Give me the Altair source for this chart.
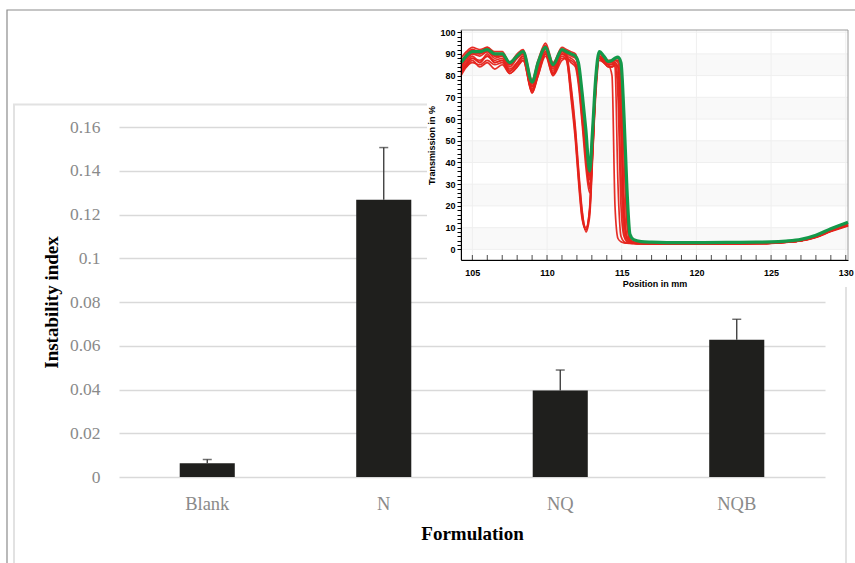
import altair as alt
import pandas as pd

# ---------------- bar chart data ----------------
formulation = ["Blank", "N", "NQ", "NQB"]
instability = [0.0063, 0.1268, 0.0396, 0.0628]
std_error = [0.0017, 0.0238, 0.0093, 0.0093]
y_ticks_main = [0, 0.02, 0.04, 0.06, 0.08, 0.1, 0.12, 0.14, 0.16]

# ---------------- inset (transmission profiles) data ----------------
position_mm = [104.24, 104.6, 105.0, 105.5, 106.0, 106.5, 107.0, 107.5, 108.0, 108.4,
               109.0, 109.4, 109.9, 110.4, 111.0, 111.3, 111.6, 111.9, 112.1, 112.35,
               112.6, 112.85, 113.05, 113.25, 113.5, 113.8, 114.1, 114.35, 114.55, 114.75,
               114.95, 115.15, 115.35, 115.55, 115.8, 116.3, 117, 118, 120, 122,
               124, 125, 126, 127, 128, 129, 130.15]

green_profile = [86, 89, 91, 91, 92, 90, 90, 86, 89, 91,
                 77, 86, 93, 85, 92, 91, 90, 89, 86, 72,
                 55, 36, 55, 78, 91, 89, 86.5, 87, 88, 88.5,
                 86, 62, 28, 7, 4.5, 3.6, 3.3, 3.1, 3.1, 3.2,
                 3.3, 3.4, 3.8, 4.6, 6.5, 9.5, 12.5]

red_r1 = [84, 88, 90, 90, 91, 89, 89, 85, 88, 90, 75, 85, 92, 84, 91, 90, 89, 88, 84, 68,
          50, 32, 52, 76, 90, 88, 86, 86.5, 87, 87, 80, 45, 12, 4, 3.2, 2.9, 2.8, 2.7, 2.7, 2.8,
          2.9, 3.0, 3.4, 4.2, 6.0, 9.0, 12.0]
red_r2 = [81, 85, 88, 87, 89, 87, 88, 83, 86, 89, 73, 83, 91, 82, 90, 89, 88, 86, 80, 62,
          44, 28, 48, 74, 89, 87, 85, 85, 86, 84, 55, 14, 5, 3.5, 3.0, 2.7, 2.6, 2.5, 2.5, 2.6,
          2.7, 2.9, 3.3, 4.0, 5.8, 8.6, 11.2]
red_r3 = [88, 91, 93, 92, 93, 91, 91, 86, 90, 92, 78, 87, 95, 86, 93, 92, 91, 90, 85, 70,
          52, 34, 54, 77, 91, 89, 87, 87, 88, 88, 86, 60, 20, 5, 3.4, 3.0, 2.9, 2.8, 2.8, 2.9,
          3.0, 3.2, 3.6, 4.4, 6.2, 9.2, 11.8]
red_r4 = [83, 86, 89, 86, 90, 86, 87, 82, 85, 88, 72, 81, 90, 81, 88, 88, 87, 85, 78, 60,
          42, 30, 46, 72, 88, 86, 84, 84, 85, 70, 20, 6, 3.6, 3.2, 2.9, 2.7, 2.6, 2.5, 2.5, 2.6,
          2.7, 2.9, 3.3, 4.0, 5.6, 8.4, 11.0]
red_r5 = [86, 90, 92, 91, 93, 90, 90, 86, 89, 91, 76, 86, 93, 85, 92, 91, 90, 89, 83, 66,
          48, 38, 56, 79, 91, 88, 86, 86, 87, 87, 85, 50, 14, 4.2, 3.3, 3.0, 2.9, 2.8, 2.8, 2.9,
          3.0, 3.2, 3.6, 4.3, 6.2, 9.2, 11.8]
red_r6 = [82, 84, 87, 84, 86, 83, 85, 81, 84, 87, 73, 80, 89, 80, 87, 88, 86, 84, 76, 58,
          38, 26, 44, 70, 87, 86, 84, 84, 85, 84, 62, 16, 5, 3.4, 3.0, 2.7, 2.6, 2.5, 2.5, 2.6,
          2.7, 2.9, 3.3, 4.0, 5.7, 8.5, 11.0]
red_a1 = [80, 84, 86, 85, 87, 85, 86, 81, 84, 87, 72, 80, 90, 80, 89, 87, 72, 52, 34, 15,
          9, 17, 44, 74, 88, 86, 85, 80, 20, 5, 3.5, 3.0, 2.8, 2.7, 2.6, 2.5, 2.5, 2.4, 2.4, 2.5,
          2.6, 2.8, 3.2, 3.9, 5.5, 8.2, 10.8]
red_a2 = [84, 87, 90, 89, 91, 88, 89, 84, 88, 90, 74, 84, 93, 83, 91, 89, 74, 54, 36, 17,
          10, 18, 46, 76, 89, 87, 86, 86, 84, 30, 6, 3.6, 3.0, 2.8, 2.7, 2.6, 2.5, 2.5, 2.5, 2.6,
          2.7, 2.9, 3.3, 4.0, 5.7, 8.5, 11.0]
red_a3 = [86, 89, 92, 90, 92, 89, 90, 85, 89, 91, 75, 85, 94, 84, 92, 90, 76, 56, 38, 18,
          8, 15, 42, 73, 88, 87, 86, 86, 87, 86, 72, 25, 6, 3.8, 3.1, 2.8, 2.7, 2.6, 2.6, 2.7,
          2.8, 3.0, 3.4, 4.1, 5.9, 8.8, 11.4]
red_a4 = [82, 85, 88, 86, 89, 86, 87, 82, 86, 89, 73, 82, 91, 81, 90, 88, 70, 50, 32, 14,
          9, 19, 48, 77, 89, 87, 85, 85, 86, 78, 35, 8, 3.8, 3.2, 2.9, 2.7, 2.6, 2.5, 2.5, 2.6,
          2.7, 2.9, 3.3, 4.0, 5.7, 8.5, 11.1]

red_profiles = {"r1": red_r1, "r2": red_r2, "r3": red_r3, "r4": red_r4, "r5": red_r5,
                "r6": red_r6, "a1": red_a1, "a2": red_a2, "a3": red_a3, "a4": red_a4}

inset_x_labels = [105, 110, 115, 120, 125, 130]
inset_x_minor = list(range(105, 131))
inset_y_ticks = list(range(0, 101, 2))
inset_y_grid = list(range(0, 101, 10))
band_lo = [0, 20, 40, 60, 80]
band_hi = [10, 30, 50, 70, 90]

X_MIN, X_MAX = 104.24, 130.15
Y_MIN, Y_MAX = -4.9, 101.0

# ---------------- styling / layout constants ----------------
SERIF = "Liberation Serif"
SANS = "Liberation Sans"
GRAY_TXT = "#8a8a8a"
RED = "#e5231b"
GREEN = "#14994a"
PLOT_W, PLOT_H = 706, 350
PAD_L, PAD_T = 119, 127
INSET_X_RANGE = [342, 729]
INSET_Y_RANGE = [133, -97]

# ---------------- data frames ----------------
bar_df = pd.DataFrame({"Formulation": formulation, "Index": instability, "Err": std_error})
bar_df["Upper"] = bar_df["Index"] + bar_df["Err"]

rows = []
for name, vals in red_profiles.items():
    for p, v in zip(position_mm, vals):
        rows.append({"pos": p, "T": v, "curve": name})
red_df = pd.DataFrame(rows)
green_df = pd.DataFrame({"pos": position_mm, "T": green_profile, "curve": "g"})

band_df = pd.DataFrame({"T": band_lo, "T2": band_hi, "pos": X_MIN, "pos2": X_MAX})
hgrid_df = pd.DataFrame({"T": inset_y_grid, "pos": X_MIN, "pos2": X_MAX})
vgrid_df = pd.DataFrame({"pos": inset_x_labels, "T": Y_MIN, "T2": Y_MAX})
minor_df = pd.DataFrame({"pos": inset_x_minor, "T": Y_MIN})
frame_df = pd.DataFrame({"pos": [X_MIN], "pos2": [X_MAX], "T": [Y_MIN], "T2": [Y_MAX]})
one = pd.DataFrame({"a": [0]})

# ---------------- main bar chart ----------------
main_x_axis = alt.Axis(orient="bottom", title="Formulation", labelAngle=0, labelFont=SERIF,
                       labelFontSize=18.5, labelColor=GRAY_TXT, labelPadding=17, ticks=False,
                       domain=False, titleFont=SERIF, titleFontSize=19,
                       titleFontWeight="bold", titleColor="black", titlePadding=12)
main_y_axis = alt.Axis(orient="left", values=y_ticks_main, format="~g",
                       title="Instability index", labelFont=SERIF, labelFontSize=17.5,
                       labelColor=GRAY_TXT, labelPadding=19, ticks=False, domain=False,
                       grid=True, gridColor="#d9d9d9", gridWidth=1.5, titleFont=SERIF,
                       titleFontSize=19, titleFontWeight="bold", titleColor="black",
                       titlePadding=8, labelFlush=False)
main_x_scale = alt.Scale(domain=formulation, paddingInner=0.688, paddingOuter=0.344)
main_y_scale = alt.Scale(domain=[0, 0.16], nice=False)

x_main = alt.X("Formulation:N", sort=formulation, scale=main_x_scale, axis=main_x_axis)
y_main = alt.Y("Index:Q", scale=main_y_scale, axis=main_y_axis)
y_upper = alt.Y("Upper:Q", scale=main_y_scale, axis=main_y_axis)

bars = alt.Chart(bar_df).mark_bar(color="#1f1f1d").encode(x=x_main, y=y_main)
err = alt.Chart(bar_df).mark_rule(color="#333333", strokeWidth=1.3).encode(
    x=x_main, y=y_main, y2="Upper:Q")
caps = alt.Chart(bar_df).mark_tick(color="#333333", orient="horizontal", size=9,
                                   thickness=1.5).encode(x=x_main, y=y_upper)
main = alt.layer(bars, err, caps)

# ---------------- inset ----------------
xs = alt.Scale(domain=[X_MIN, X_MAX], range=INSET_X_RANGE, nice=False, zero=False)
ys = alt.Scale(domain=[Y_MIN, Y_MAX], range=INSET_Y_RANGE, nice=False, zero=False)
inset_x_axis = alt.Axis(orient="bottom", offset=-(PLOT_H - INSET_Y_RANGE[0]),
                        values=inset_x_labels, ticks=False, labelPadding=8, labelFont=SANS,
                        labelFontWeight="bold", labelFontSize=9, labelColor="black",
                        domainColor="black", domainWidth=1, title="Position in mm",
                        titleFont=SANS, titleFontSize=9, titleFontWeight="bold",
                        titleColor="black", titlePadding=2, grid=False, zindex=1,
                        labelFlush=False)
inset_y_axis = alt.Axis(orient="left", offset=-INSET_X_RANGE[0], values=inset_y_ticks,
                        labelExpr="datum.value % 10 == 0 ? datum.label : ''",
                        labelOverlap=False, labelFont=SANS, labelFontWeight="bold",
                        labelFontSize=9, labelColor="black", labelPadding=2, tickSize=4,
                        tickColor="black", domainColor="black", domainWidth=1,
                        title="Transmission in %", titleFont=SANS, titleFontSize=9,
                        titleFontWeight="bold", titleColor="black", titlePadding=3,
                        grid=False, zindex=1, labelFlush=False, format="d")
X_in = alt.X("pos:Q", scale=xs, axis=inset_x_axis)
Y_in = alt.Y("T:Q", scale=ys, axis=inset_y_axis)

white_bg = alt.Chart(one).mark_rect(fill="white").encode(
    x=alt.value(308), x2=alt.value(736), y=alt.value(-115), y2=alt.value(160))
bands = alt.Chart(band_df).mark_rect(fill="#f9f9f9").encode(
    x=X_in, x2="pos2:Q", y=Y_in, y2="T2:Q")
hgrid = alt.Chart(hgrid_df).mark_rule(color="#efefef", strokeWidth=1).encode(
    x=X_in, x2="pos2:Q", y=Y_in)
vgrid = alt.Chart(vgrid_df).mark_rule(color="#efefef", strokeWidth=1).encode(
    x=X_in, y=Y_in, y2="T2:Q")
frame = alt.Chart(frame_df).mark_rect(fill=None, stroke="#9a9a9a", strokeWidth=1).encode(
    x=X_in, x2="pos2:Q", y=Y_in, y2="T2:Q")
red_lines = alt.Chart(red_df).mark_line(color=RED, strokeWidth=1.7, opacity=0.95,
                                        interpolate="monotone").encode(
    x=X_in, y=Y_in, detail="curve:N")
green_line = alt.Chart(green_df).mark_line(color=GREEN, strokeWidth=3.2,
                                           interpolate="monotone").encode(x=X_in, y=Y_in)
minor_ticks = alt.Chart(minor_df).mark_tick(color="black", orient="vertical", size=5,
                                            thickness=1, yOffset=-2.5).encode(x=X_in, y=Y_in)
inset = alt.layer(white_bg, bands, hgrid, vgrid, frame, red_lines, green_line, minor_ticks)

# ---------------- page frame decorations ----------------
outer = alt.Chart(one).mark_rect(fill=None, stroke="#8c8c8c", strokeWidth=1.2).encode(
    x=alt.value(-112), x2=alt.value(760), y=alt.value(-117), y2=alt.value(460))
inner = alt.Chart(one).mark_rect(fill=None, stroke="#e2e2e2", strokeWidth=2).encode(
    x=alt.value(-105), x2=alt.value(727), y=alt.value(-22.5), y2=alt.value(460))

chart = alt.layer(outer, inner, main, inset).resolve_scale(
    x="independent", y="independent"
).properties(
    width=PLOT_W, height=PLOT_H,
    autosize=alt.AutoSizeParams(type="none"),
    padding={"left": PAD_L, "top": PAD_T, "right": 855 - PAD_L - PLOT_W,
             "bottom": 563 - PAD_T - PLOT_H},
    background="white",
).configure_view(stroke=None)

chart.save("out.html", embed_options={"renderer": "svg", "actions": False})
